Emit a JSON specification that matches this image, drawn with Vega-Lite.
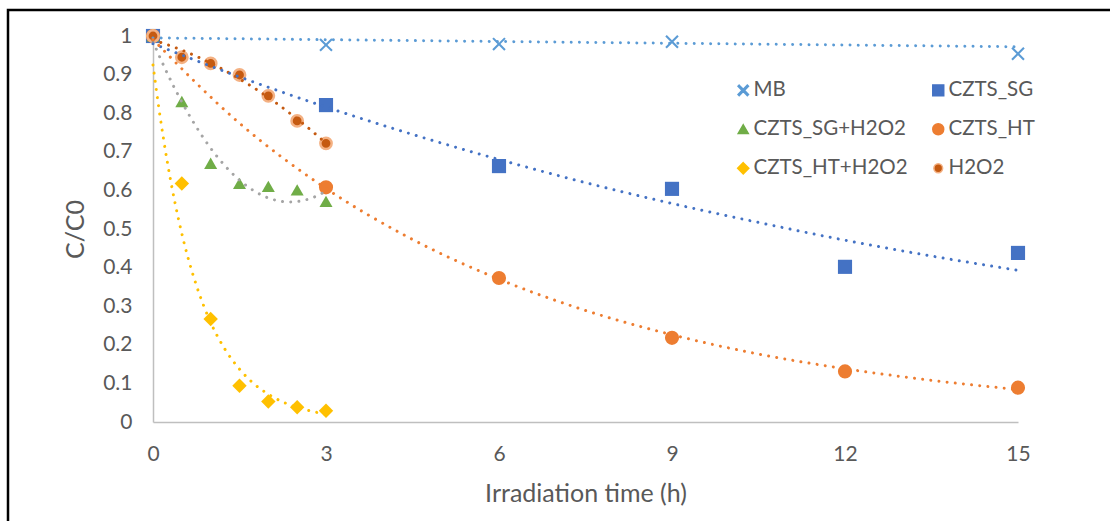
{
  "$schema": "https://vega.github.io/schema/vega-lite/v6.json",
  "autosize": "none",
  "width": 865,
  "height": 386,
  "padding": {"left": 153, "top": 36, "right": 92, "bottom": 99},
  "background": "white",
  "config": {
    "view": {"stroke": null},
    "font": "Lato",
    "legend": {"symbolSize": 120, "symbolStrokeWidth": 1.5},
    "axis": {
      "grid": false, "ticks": false, "domainColor": "#BFBFBF", "domainWidth": 1.5,
      "labelFlush": false, "labelOverlap": false,
      "labelFont": "Lato", "labelFontSize": 21, "labelColor": "#595959", "labelPadding": 21,
      "titleFont": "Lato", "titleFontSize": 25, "titleFontWeight": "normal", "titleColor": "#595959"
    }
  },
  "datasets": {
    "pts": [
      {"series": "MB", "t": 0, "c": 1},
      {"series": "MB", "t": 3, "c": 0.977},
      {"series": "MB", "t": 6, "c": 0.979},
      {"series": "MB", "t": 9, "c": 0.985},
      {"series": "MB", "t": 15, "c": 0.954},
      {"series": "CZTS_SG", "t": 0, "c": 1},
      {"series": "CZTS_SG", "t": 3, "c": 0.821},
      {"series": "CZTS_SG", "t": 6, "c": 0.663},
      {"series": "CZTS_SG", "t": 9, "c": 0.604},
      {"series": "CZTS_SG", "t": 12, "c": 0.402},
      {"series": "CZTS_SG", "t": 15, "c": 0.438},
      {"series": "CZTS_SG+H2O2", "t": 0, "c": 1},
      {"series": "CZTS_SG+H2O2", "t": 0.5, "c": 0.83},
      {"series": "CZTS_SG+H2O2", "t": 1, "c": 0.67},
      {"series": "CZTS_SG+H2O2", "t": 1.5, "c": 0.618},
      {"series": "CZTS_SG+H2O2", "t": 2, "c": 0.61},
      {"series": "CZTS_SG+H2O2", "t": 2.5, "c": 0.601},
      {"series": "CZTS_SG+H2O2", "t": 3, "c": 0.571},
      {"series": "CZTS_HT", "t": 0, "c": 1},
      {"series": "CZTS_HT", "t": 3, "c": 0.608},
      {"series": "CZTS_HT", "t": 6, "c": 0.373},
      {"series": "CZTS_HT", "t": 9, "c": 0.218},
      {"series": "CZTS_HT", "t": 12, "c": 0.131},
      {"series": "CZTS_HT", "t": 15, "c": 0.089},
      {"series": "CZTS_HT+H2O2", "t": 0, "c": 1},
      {"series": "CZTS_HT+H2O2", "t": 0.5, "c": 0.618},
      {"series": "CZTS_HT+H2O2", "t": 1, "c": 0.267},
      {"series": "CZTS_HT+H2O2", "t": 1.5, "c": 0.094},
      {"series": "CZTS_HT+H2O2", "t": 2, "c": 0.053},
      {"series": "CZTS_HT+H2O2", "t": 2.5, "c": 0.038},
      {"series": "CZTS_HT+H2O2", "t": 3, "c": 0.029},
      {"series": "H2O2", "t": 0, "c": 1},
      {"series": "H2O2", "t": 0.5, "c": 0.945},
      {"series": "H2O2", "t": 1, "c": 0.929},
      {"series": "H2O2", "t": 1.5, "c": 0.899},
      {"series": "H2O2", "t": 2, "c": 0.845},
      {"series": "H2O2", "t": 2.5, "c": 0.78},
      {"series": "H2O2", "t": 3, "c": 0.722}
    ],
    "trend": [
      {"series": "MB", "t": 0, "c": 0.995},
      {"series": "MB", "t": 15, "c": 0.972},
      {"series": "CZTS_SG", "t": 0, "c": 0.98},
      {"series": "CZTS_SG", "t": 1.5, "c": 0.894},
      {"series": "CZTS_SG", "t": 3, "c": 0.816},
      {"series": "CZTS_SG", "t": 4.5, "c": 0.745},
      {"series": "CZTS_SG", "t": 6, "c": 0.68},
      {"series": "CZTS_SG", "t": 7.5, "c": 0.62},
      {"series": "CZTS_SG", "t": 9, "c": 0.566},
      {"series": "CZTS_SG", "t": 10.5, "c": 0.517},
      {"series": "CZTS_SG", "t": 12, "c": 0.471},
      {"series": "CZTS_SG", "t": 13.5, "c": 0.43},
      {"series": "CZTS_SG", "t": 15, "c": 0.393},
      {"series": "CZTS_HT", "t": 0, "c": 0.991},
      {"series": "CZTS_HT", "t": 1.5, "c": 0.774},
      {"series": "CZTS_HT", "t": 3, "c": 0.605},
      {"series": "CZTS_HT", "t": 4.5, "c": 0.473},
      {"series": "CZTS_HT", "t": 6, "c": 0.37},
      {"series": "CZTS_HT", "t": 7.5, "c": 0.289},
      {"series": "CZTS_HT", "t": 9, "c": 0.226},
      {"series": "CZTS_HT", "t": 10.5, "c": 0.176},
      {"series": "CZTS_HT", "t": 12, "c": 0.138},
      {"series": "CZTS_HT", "t": 13.5, "c": 0.108},
      {"series": "CZTS_HT", "t": 15, "c": 0.084},
      {"series": "CZTS_HT+H2O2", "t": 0, "c": 0.925},
      {"series": "CZTS_HT+H2O2", "t": 0.1, "c": 0.815},
      {"series": "CZTS_HT+H2O2", "t": 0.25, "c": 0.672},
      {"series": "CZTS_HT+H2O2", "t": 0.5, "c": 0.488},
      {"series": "CZTS_HT+H2O2", "t": 0.75, "c": 0.355},
      {"series": "CZTS_HT+H2O2", "t": 1, "c": 0.258},
      {"series": "CZTS_HT+H2O2", "t": 1.25, "c": 0.188},
      {"series": "CZTS_HT+H2O2", "t": 1.5, "c": 0.137},
      {"series": "CZTS_HT+H2O2", "t": 1.75, "c": 0.099},
      {"series": "CZTS_HT+H2O2", "t": 2, "c": 0.072},
      {"series": "CZTS_HT+H2O2", "t": 2.25, "c": 0.052},
      {"series": "CZTS_HT+H2O2", "t": 2.5, "c": 0.038},
      {"series": "CZTS_HT+H2O2", "t": 2.75, "c": 0.028},
      {"series": "CZTS_HT+H2O2", "t": 3, "c": 0.02}
    ]
  },
  "layer": [
    {
      "data": {"name": "pts"},
      "mark": {"type": "point", "filled": true, "opacity": 1, "size": 200},
      "encoding": {
        "x": {
          "field": "t", "type": "quantitative",
          "scale": {"domain": [0, 15], "nice": false, "zero": false},
          "axis": {"values": [0, 3, 6, 9, 12, 15], "tickCount": 6, "format": "d", "title": "Irradiation time (h)", "titlePadding": 17}
        },
        "y": {
          "field": "c", "type": "quantitative",
          "scale": {"domain": [0, 1], "nice": false},
          "axis": {"values": [0, 0.1, 0.2, 0.3, 0.4, 0.5, 0.6, 0.7, 0.8, 0.9, 1], "tickCount": 11, "format": ".1~f", "title": "C/C0", "titlePadding": 14}
        },
        "fill": {
          "field": "series", "type": "nominal",
          "scale": {
            "domain": ["MB", "CZTS_SG", "CZTS_SG+H2O2", "CZTS_HT", "CZTS_HT+H2O2", "H2O2"],
            "range": ["#5B9BD5", "#4472C4", "#70AD47", "#ED7D31", "#FFC000", "#C55A11"]
          },
          "legend": {
            "title": null, "orient": "none", "legendX": 580, "legendY": 44, "columns": 2, "direction": "horizontal",
            "columnPadding": 20, "rowPadding": 18, "labelFont": "Lato", "labelFontSize": 20.5,
            "labelColor": "#595959", "labelOffset": 0, "symbolSize": 120
          }
        },
        "stroke": {
          "field": "series", "type": "nominal",
          "scale": {
            "domain": ["MB", "CZTS_SG", "CZTS_SG+H2O2", "CZTS_HT", "CZTS_HT+H2O2", "H2O2"],
            "range": ["#5B9BD5", "#4472C4", "#70AD47", "#ED7D31", "#FFC000", "#F4B183"]
          },
          "legend": {
            "title": null, "orient": "none", "legendX": 580, "legendY": 44, "columns": 2, "direction": "horizontal",
            "columnPadding": 20, "rowPadding": 18, "labelFont": "Lato", "labelFontSize": 20.5,
            "labelColor": "#595959", "labelOffset": 0, "symbolSize": 120
          }
        },
        "shape": {
          "field": "series", "type": "nominal",
          "scale": {
            "domain": ["MB", "CZTS_SG", "CZTS_SG+H2O2", "CZTS_HT", "CZTS_HT+H2O2", "H2O2"],
            "range": [
              "M-0.741,-0.95L0,-0.209L0.741,-0.95L0.95,-0.741L0.209,0L0.95,0.741L0.741,0.95L0,0.209L-0.741,0.95L-0.95,0.741L-0.209,0L-0.95,-0.741Z",
              "square",
              "M0,-0.82L0.92,0.78L-0.92,0.78Z",
              "circle",
              "M0,-1.02L1.02,0L0,1.02L-1.02,0Z",
              "M0.8,0A0.8,0.8,0,1,1,-0.8,0A0.8,0.8,0,1,1,0.8,0Z"
            ]
          },
          "legend": {
            "title": null, "orient": "none", "legendX": 580, "legendY": 44, "columns": 2, "direction": "horizontal",
            "columnPadding": 20, "rowPadding": 18, "labelFont": "Lato", "labelFontSize": 20.5,
            "labelColor": "#595959", "labelOffset": 0, "symbolSize": 120
          }
        },
        "strokeWidth": {"condition": {"test": "datum.series === 'H2O2'", "value": 2.5}, "value": 0}
      }
    },
    {
      "data": {"values": [{"frame": "border"}]},
      "mark": {"type": "rect", "filled": false, "stroke": "black", "strokeWidth": 2.5, "clip": false},
      "encoding": {
        "x": {"datum": -2.5144, "type": "quantitative"},
        "x2": {"datum": 16.94},
        "y": {"datum": 1.06736, "type": "quantitative"},
        "y2": {"datum": -0.3057}
      }
    },
    {
      "data": {"name": "pts"},
      "transform": [
        {"filter": {"field": "series", "oneOf": ["CZTS_SG+H2O2", "H2O2"]}},
        {"regression": "c", "on": "t", "groupby": ["series"], "method": "poly", "order": 2}
      ],
      "mark": {"type": "line", "strokeWidth": 3, "strokeDash": [0.001, 8.2], "strokeCap": "round"},
      "encoding": {
        "x": {"field": "t", "type": "quantitative"},
        "y": {"field": "c", "type": "quantitative"},
        "color": {
          "field": "series", "type": "nominal", "legend": null,
          "scale": {
            "domain": ["MB", "CZTS_SG", "CZTS_SG+H2O2", "CZTS_HT", "CZTS_HT+H2O2", "H2O2"],
            "range": ["#5B9BD5", "#4472C4", "#A5A5A5", "#ED7D31", "#FFC000", "#C55A11"]
          }
        }
      }
    },
    {
      "data": {"name": "trend"},
      "mark": {"type": "line", "strokeWidth": 3, "strokeDash": [0.001, 8.2], "strokeCap": "round", "interpolate": "monotone"},
      "encoding": {
        "x": {"field": "t", "type": "quantitative"},
        "y": {"field": "c", "type": "quantitative"},
        "color": {"field": "series", "type": "nominal", "legend": null}
      }
    }
  ]
}
